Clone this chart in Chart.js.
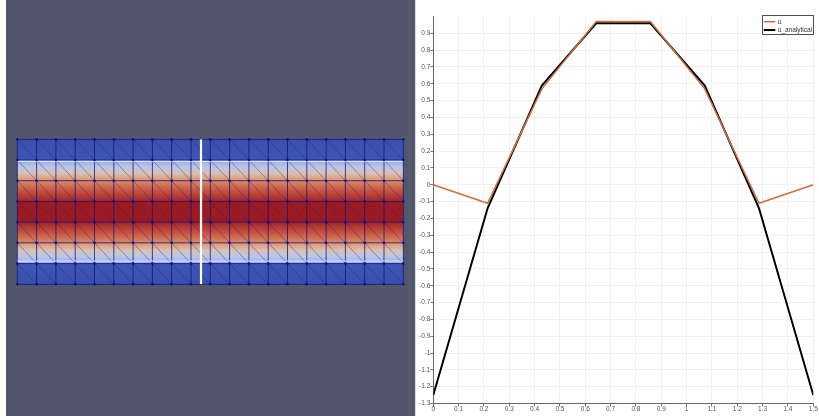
<!DOCTYPE html>
<html>
<head>
<meta charset="utf-8">
<script src="https://cdn.jsdelivr.net/npm/chart.js@4.4.1/dist/chart.umd.min.js"></script>
<style>
  html, body { margin: 0; padding: 0; background: #ffffff; width: 819px; height: 416px; overflow: hidden; }
  #mesh { position: absolute; left: 6px; top: 0; background: #52576e; }
  #sep  { position: absolute; left: 415px; top: 0; width: 1px; height: 416px; background: #dcdcdc; }
  #plot { position: absolute; left: 416px; top: 0; }
</style>
</head>
<body>
<canvas id="mesh" width="409" height="416"></canvas>
<div id="sep"></div>
<canvas id="plot" width="403" height="416"></canvas>
<script>
// Probe samples along the vertical line (arc length) and the two fields
const arcLength   = [0, 0.2143, 0.4286, 0.6429, 0.8571, 1.0714, 1.2857, 1.5];
const u           = [0, -0.11, 0.57, 0.97, 0.97, 0.57, -0.11, 0];
const uAnalytical = [-1.25, -0.14, 0.59, 0.96, 0.96, 0.59, -0.14, -1.25];

// Axis ticks of the line plot
const xTickValues = [0, 0.1, 0.2, 0.3, 0.4, 0.5, 0.6, 0.7, 0.8, 0.9, 1, 1.1, 1.2, 1.3, 1.4, 1.5];
const xTickLabels = ['0', '0.1', '0.2', '0.3', '0.4', '0.5', '0.6', '0.7', '0.8', '0.9', '1', '1.1', '1.2', '1.3', '1.4', '1.5'];
const yTickValues = [-1.3, -1.2, -1.1, -1, -0.9, -0.8, -0.7, -0.6, -0.5, -0.4, -0.3, -0.2, -0.1, 0, 0.1, 0.2, 0.3, 0.4, 0.5, 0.6, 0.7, 0.8, 0.9];
const yTickLabels = ['-1.3', '-1.2', '-1.1', '-1', '-0.9', '-0.8', '-0.7', '-0.6', '-0.5', '-0.4', '-0.3', '-0.2', '-0.1', '0', '0.1', '0.2', '0.3', '0.4', '0.5', '0.6', '0.7', '0.8', '0.9'];

// Mesh: 20 columns of square cells, probe line position
const meshColumns = 20;
const probeX = 2.04;

// Shading of each mesh row, top to bottom (gradient stops)
const rowGradients = [
  [[0, '#3a50ae'], [1, '#3e55b4']],
  [[0, '#93ace8'], [0.35, '#bcc6e6'], [0.65, '#d9c0b2'], [1, '#e0926e']],
  [[0, '#dc8a66'], [0.5, '#c4523e'], [1, '#a2242a']],
  [[0, '#9c1b22'], [1, '#9c1b22']],
  [[0, '#a2242a'], [0.5, '#c4523e'], [1, '#dc8a66']],
  [[0, '#e0926e'], [0.35, '#d9c0b2'], [0.65, '#bcc6e6'], [1, '#93ace8']],
  [[0, '#3e55b4'], [1, '#3a50ae']]
];

const cellSize = arcLength[1] - arcLength[0];
const meshWidth = meshColumns * cellSize;
const meshHeight = arcLength[arcLength.length - 1];

// Paints the shaded triangle mesh using the chart's own scales
const meshPainter = {
  id: 'meshPainter',
  beforeDatasetsDraw(chart) {
    const { ctx, scales: { x, y } } = chart;
    const colX = [];
    for (let i = 0; i <= meshColumns; i++) colX.push(x.getPixelForValue(i * cellSize));
    const rowY = arcLength.map(v => y.getPixelForValue(v));
    const left = colX[0], right = colX[colX.length - 1];
    ctx.save();
    // row fills
    for (let r = 0; r < rowY.length - 1; r++) {
      const g = ctx.createLinearGradient(0, rowY[r], 0, rowY[r + 1]);
      rowGradients[r].forEach(([o, c]) => g.addColorStop(o, c));
      ctx.fillStyle = g;
      ctx.fillRect(left, rowY[r], right - left, rowY[r + 1] - rowY[r]);
    }
    // diagonals of the triangles
    ctx.strokeStyle = 'rgba(25, 30, 150, 0.38)';
    ctx.lineWidth = 1;
    ctx.beginPath();
    for (let r = 0; r < rowY.length - 1; r++) {
      for (let i = 0; i < meshColumns; i++) {
        ctx.moveTo(colX[i], rowY[r]);
        ctx.lineTo(colX[i + 1], rowY[r + 1]);
      }
    }
    ctx.stroke();
    // cell edges
    ctx.strokeStyle = 'rgba(15, 18, 125, 0.75)';
    ctx.beginPath();
    colX.forEach(cx => { ctx.moveTo(cx, rowY[0]); ctx.lineTo(cx, rowY[rowY.length - 1]); });
    rowY.forEach(ry => { ctx.moveTo(left, ry); ctx.lineTo(right, ry); });
    ctx.stroke();
    // light seams next to the outer blue bands
    ctx.strokeStyle = 'rgba(235, 240, 255, 0.8)';
    ctx.beginPath();
    ctx.moveTo(left, rowY[1] + 1.5); ctx.lineTo(right, rowY[1] + 1.5);
    ctx.moveTo(left, rowY[rowY.length - 2] - 2.5); ctx.lineTo(right, rowY[rowY.length - 2] - 2.5);
    ctx.stroke();
    // mesh nodes
    ctx.fillStyle = 'rgba(15, 15, 115, 0.9)';
    rowY.forEach(ry => colX.forEach(cx => {
      ctx.beginPath(); ctx.arc(cx, ry, 1.3, 0, Math.PI * 2); ctx.fill();
    }));
    ctx.restore();
  }
};

new Chart(document.getElementById('mesh'), {
  type: 'line',
  data: {
    datasets: [{
      data: [{ x: probeX, y: arcLength[0] }, { x: probeX, y: meshHeight }],
      borderColor: '#ffffff', borderWidth: 2.2, pointRadius: 0
    }]
  },
  options: {
    responsive: false, animation: false, devicePixelRatio: 1,
    layout: { padding: { left: 11.3, right: 11.7, top: 139.3, bottom: 131.7 } },
    plugins: { legend: { display: false }, tooltip: { enabled: false } },
    scales: {
      x: { type: 'linear', display: false, min: 0, max: meshWidth },
      y: { type: 'linear', display: false, min: 0, max: meshHeight, reverse: true }
    }
  },
  plugins: [meshPainter]
});

// Boxed legend in the upper right corner of the plot area
const legendBox = {
  id: 'legendBox',
  afterDatasetsDraw(chart) {
    const { ctx, chartArea } = chart;
    const w = 52, h = 20;
    const bx = chartArea.right - w + 0.5, by = chartArea.top - 1;
    ctx.save();
    ctx.fillStyle = '#ffffff';
    ctx.fillRect(bx, by, w, h);
    ctx.strokeStyle = '#505050';
    ctx.lineWidth = 1;
    ctx.strokeRect(Math.round(bx) + 0.5, Math.round(by) + 0.5, w - 1, h - 1);
    ctx.font = '6.5px "Liberation Sans", Arial, sans-serif';
    ctx.textBaseline = 'middle';
    chart.data.datasets.forEach((ds, i) => {
      const ly = by + 6.7 + i * 8.3;
      ctx.strokeStyle = ds.borderColor;
      ctx.lineWidth = ds.borderWidth;
      ctx.beginPath(); ctx.moveTo(bx + 2, ly); ctx.lineTo(bx + 13.5, ly); ctx.stroke();
      ctx.fillStyle = '#333333';
      ctx.fillText(ds.label, bx + 16, ly + 0.5);
    });
    ctx.restore();
  }
};

const tickFont = { size: 6.5, family: '"Liberation Sans", Arial, sans-serif' };

new Chart(document.getElementById('plot'), {
  type: 'line',
  data: {
    datasets: [
      { label: 'u', data: arcLength.map((s, i) => ({ x: s, y: u[i] })),
        borderColor: '#cb7044', borderWidth: 1.5, pointRadius: 0, tension: 0 },
      { label: 'u_analytical', data: arcLength.map((s, i) => ({ x: s, y: uAnalytical[i] })),
        borderColor: '#000000', borderWidth: 2, pointRadius: 0, tension: 0 }
    ]
  },
  options: {
    responsive: false, animation: false, devicePixelRatio: 1,
    layout: { padding: { top: 16, right: 5.7, left: 0, bottom: 0 } },
    plugins: { legend: { display: false }, tooltip: { enabled: false } },
    scales: {
      x: {
        type: 'linear', min: 0, max: 1.5,
        afterBuildTicks: s => { s.ticks = xTickValues.map(v => ({ value: v })); },
        afterFit: s => { s.height = 12.5; },
        grid: { color: '#f0f0f0', tickColor: '#777777', tickLength: 3 },
        border: { color: '#666666' },
        ticks: { font: tickFont, color: '#555555', padding: -1, maxRotation: 0, autoSkip: false,
                 callback: (v, i) => xTickLabels[i] }
      },
      y: {
        type: 'linear', min: -1.3, max: 1.003,
        afterBuildTicks: s => { s.ticks = yTickValues.map(v => ({ value: v })); },
        afterFit: s => { s.width = 17.3; },
        grid: { color: '#f0f0f0', tickColor: '#777777', tickLength: 3 },
        border: { color: '#666666' },
        ticks: { font: tickFont, color: '#555555', padding: 0, autoSkip: false,
                 callback: (v, i) => yTickLabels[i] }
      }
    }
  },
  plugins: [legendBox]
});
</script>
</body>
</html>
